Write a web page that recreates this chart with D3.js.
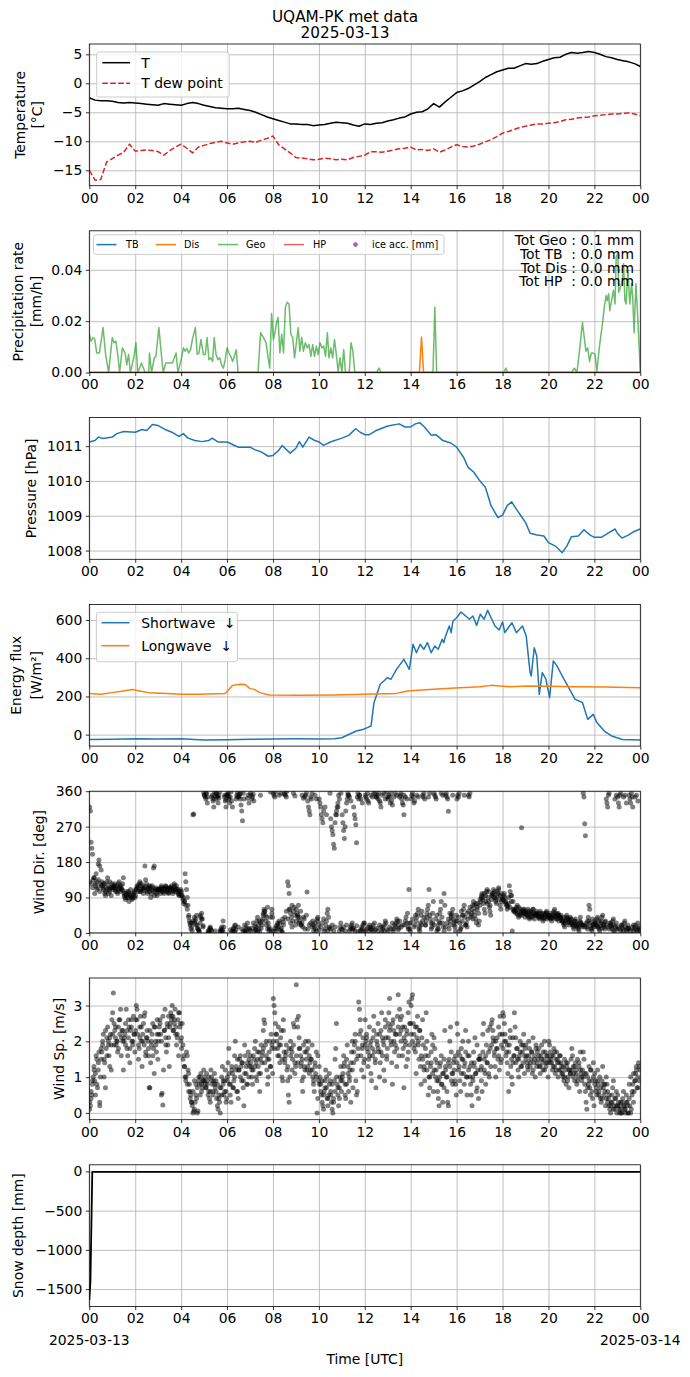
<!DOCTYPE html>
<html><head><meta charset="utf-8">
<script src="https://cdn.jsdelivr.net/npm/d3@7"></script>
<style>
body{margin:0;background:#fff}
svg text{font-family:"DejaVu Sans",sans-serif;fill:#000}
</style>
</head><body><svg id="c" width="690" height="1377"></svg>
<script>
// ---------------- DATA ----------------
const dayStart = Date.UTC(2025,2,13,0,0,0);
const tempHours = d3.range(0, 24.001, 0.25);
const tempT = [-2.5,-2.9,-3.0,-3.0,-3.1,-3.3,-3.4,-3.3,-3.4,-3.5,-3.6,-3.7,-3.8,-3.5,-3.6,-3.7,
  -3.8,-3.5,-3.3,-3.5,-3.8,-4.0,-4.2,-4.3,-4.4,-4.4,-4.3,-4.5,-4.7,-5.0,-5.4,-5.8,
  -6.1,-6.4,-6.7,-7.0,-7.0,-7.1,-7.1,-7.3,-7.2,-7.1,-6.9,-6.7,-6.8,-6.9,-7.2,-7.4,
  -7.0,-7.1,-6.9,-6.8,-6.5,-6.3,-6.0,-5.8,-5.3,-5.0,-4.9,-4.4,-3.5,-4.1,-3.2,-2.4,
  -1.6,-1.3,-0.9,-0.3,0.3,1.0,1.5,2.0,2.3,2.6,2.6,3.0,3.4,3.3,3.4,3.8,
  4.1,4.4,4.5,5.0,5.3,5.2,5.3,5.5,5.3,5.0,4.6,4.4,4.1,3.9,3.7,3.4,2.9];
const tempDew = [-15.0,-16.7,-16.6,-13.6,-13.0,-12.4,-11.9,-10.5,-11.7,-11.6,-11.5,-11.6,-11.8,-12.4,-11.6,-11.0,
  -10.5,-11.2,-12.0,-11.0,-10.7,-10.4,-10.2,-10.0,-10.3,-10.5,-10.3,-10.1,-10.0,-10.2,-9.8,-9.5,
  -9.1,-10.6,-11.3,-12.0,-12.8,-12.9,-13.0,-13.2,-13.1,-12.9,-13.0,-13.2,-13.1,-13.2,-12.8,-12.6,
  -12.4,-11.8,-11.8,-11.9,-11.7,-11.5,-11.3,-11.2,-11.0,-11.5,-11.4,-11.6,-11.3,-11.9,-11.5,-11.0,
  -10.6,-10.9,-11.0,-10.8,-10.5,-10.1,-9.7,-9.2,-8.6,-8.3,-8.0,-7.6,-7.4,-7.2,-7.0,-7.0,
  -6.9,-6.8,-6.6,-6.3,-6.2,-6.0,-5.9,-5.8,-5.6,-5.5,-5.4,-5.3,-5.3,-5.2,-5.1,-5.3,-5.6];

const geoHours = [0,0.08,0.16,0.24,0.32,0.44,0.60,0.71,0.84,1.00,1.08,1.16,1.24,1.32,1.44,1.56,1.63,1.71,1.79,1.95,
  2.03,2.11,2.19,2.27,2.43,2.59,2.62,2.71,2.83,2.90,3.03,3.14,3.22,3.33,3.46,3.62,3.78,3.86,4.02,4.10,
  4.17,4.25,4.33,4.41,4.49,4.62,4.70,4.78,4.86,4.97,5.05,5.13,5.21,5.29,5.37,5.44,5.52,5.60,5.68,5.76,
  5.84,5.92,6.00,6.08,6.16,6.24,6.32,6.40,6.48,7.35,7.46,7.59,7.70,7.79,7.86,7.94,8.02,8.10,8.14,8.22,
  8.30,8.38,8.46,8.54,8.62,8.70,8.78,8.86,8.94,9.02,9.10,9.17,9.25,9.33,9.41,9.49,9.57,9.65,9.73,9.81,
  9.89,9.97,10.05,10.13,10.21,10.29,10.37,10.44,10.52,10.60,10.68,10.76,10.84,10.92,11.00,11.08,11.16,11.32,11.40,11.48,
  11.56,11.63,12.51,12.62,12.71,14.97,15.05,15.13,18.06,18.14,18.22,21.00,21.13,21.24,21.35,21.48,21.56,21.63,21.71,21.79,
  21.87,21.95,22.03,22.11,22.19,22.27,22.35,22.43,22.51,22.56,22.62,22.67,22.75,22.83,22.90,22.95,23.02,23.06,23.14,23.22,
  23.27,23.33,23.38,23.46,23.54,23.62,23.67,23.73,23.81,23.89,24.00];
const geoRate = [0.0149,0.0122,0.0136,0.0129,0.0076,0.0076,0.0175,0.0070,0,0.0136,0.0116,0.0122,0.0070,0,0.0096,0.0076,0.0030,0.0070,0,0.0063,
  0.0116,0,0.0017,0.0037,0,0,0.0076,0,0.0057,0.0063,0.0175,0.0070,0,0.0037,0.0037,0.0037,0.0076,0,0.0057,0.0096,
  0.0083,0.0093,0.0076,0.0089,0.0129,0.0175,0.0070,0.0076,0.0129,0.0070,0.0070,0.0136,0.0050,0.0057,0.0043,0.0136,0.0070,0.0050,0.0057,0.0030,
  0.0017,0.0050,0.0096,0.0076,0.0063,0.0043,0.0063,0.0089,0,0,0.0155,0.0136,0.0116,0.0057,0.0017,0.0230,0.0129,0.0162,0.0188,0.0214,
  0.0076,0.0149,0.0076,0.0254,0.0274,0.0267,0.0149,0.0136,0.0057,0.0116,0.0175,0.0083,0.0136,0.0083,0.0116,0.0096,0.0109,0.0063,0.0109,0.0063,
  0.0103,0.0070,0.0116,0.0096,0.0103,0.0063,0.0155,0.0057,0.0096,0.0057,0.0129,0.0070,0.0004,0.0057,0,0.0089,0,0,0.0116,0.0083,
  0.0004,0,0,0.0017,0,0,0.0254,0,0,0.0017,0,0,0.0017,0,0.0083,0.0195,0.0136,0.0083,0.0096,0.0043,
  0.0076,0.0076,0.0070,0.0004,0.0076,0.0136,0.0188,0.0254,0.0300,0.0280,0.0307,0.0241,0.0280,0.0320,0.0267,0.0451,0.0464,0.0313,0.0333,0.0359,
  0.0425,0.0280,0.0267,0.0399,0.0267,0.0346,0.0293,0.0155,0.0346,0.0214,0.0004];
const disHours = [0,14.38,14.47,14.56,24];
const disRate = [0,0,0.0138,0,0];
const tbHours = [0,24], tbRate = [0,0];
const hpHours = [0,24], hpRate = [0,0];
const precipTotals = ["Tot Geo : 0.1 mm","Tot TB  : 0.0 mm","Tot Dis : 0.0 mm","Tot HP  : 0.0 mm"];

const presHours = [0,0.25,0.4,0.6,1.0,1.2,1.5,2.0,2.3,2.5,2.75,3.0,3.3,3.6,3.9,4.1,4.3,4.6,4.9,5.2,5.35,5.6,
  6.0,6.5,7.0,7.2,7.5,7.8,8.0,8.25,8.4,8.75,9.0,9.15,9.3,9.57,9.8,10.0,10.2,10.5,11.0,11.3,11.6,11.8,12.0,12.2,
  12.5,13.0,13.5,13.75,14.0,14.2,14.4,14.6,14.9,15.1,15.4,15.75,16.0,16.3,16.5,16.75,17.0,17.25,17.5,17.8,18.0,
  18.2,18.4,18.6,18.8,19.0,19.2,19.5,19.8,20.0,20.3,20.6,20.8,21.0,21.3,21.55,21.8,22.0,22.3,22.6,22.9,23.0,
  23.2,23.5,23.7,24.0];
const presVal = [1011.12,1011.16,1011.26,1011.22,1011.26,1011.36,1011.42,1011.40,1011.48,1011.45,1011.62,1011.59,1011.48,1011.40,1011.28,1011.36,
  1011.23,1011.16,1011.13,1011.16,1011.23,1011.12,1011.12,1010.97,1010.97,1010.90,1010.83,1010.71,1010.73,1010.88,1011.02,1010.80,
  1010.94,1011.13,1010.97,1011.26,1011.17,1011.12,1011.02,1011.12,1011.23,1011.31,1011.50,1011.40,1011.33,1011.33,1011.45,1011.58,
  1011.64,1011.55,1011.55,1011.64,1011.67,1011.55,1011.31,1011.33,1011.16,1011.09,1010.97,1010.68,1010.39,1010.25,1010.01,1009.82,
  1009.29,1008.95,1009.02,1009.29,1009.40,1009.19,1009.00,1008.81,1008.50,1008.45,1008.42,1008.23,1008.13,1007.94,1008.13,1008.40,
  1008.42,1008.60,1008.45,1008.38,1008.38,1008.50,1008.62,1008.50,1008.36,1008.45,1008.54,1008.62];

const swHours = [0,1,2,3,4,5,6,7,8,9,10,10.68,11.0,11.32,11.63,11.95,12.11,12.27,12.4,12.5,12.67,12.83,12.98,13.14,13.38,13.7,13.94,
  14.1,14.25,14.41,14.57,14.73,14.89,15.05,15.2,15.37,15.44,15.52,15.68,15.76,15.84,16.0,16.19,16.4,16.56,16.71,16.87,17.03,17.2,17.35,
  17.5,17.67,17.85,18.0,18.1,18.25,18.41,18.6,18.87,19.03,19.2,19.25,19.38,19.49,19.6,19.73,19.89,20.05,20.21,20.37,20.6,20.84,21.16,
  21.48,21.71,21.95,22.11,22.43,22.75,23.22,24];
const swVal = [-25,-24,-22,-23,-22,-28,-27,-24,-23,-22,-23,-21,-16,2,19,28,37,45,168,202,264,281,298,290,342,394,342,
  473,429,473,447,482,429,464,447,499,482,517,569,534,595,612,642,621,604,621,572,630,604,651,
  612,569,548,590,534,560,586,534,569,517,325,307,455,412,211,325,290,194,386,360,307,255,185,
  168,80,106,63,19,-7,-25,-28];
const lwHours = [0,0.52,1.0,1.48,1.87,2.19,2.59,3.38,4.02,4.81,5.92,6.08,6.24,6.56,6.79,7.0,7.19,7.43,7.83,9.1,10.68,11.95,
  13.38,13.86,14.81,15.92,17.03,17.5,18.3,19.1,20.05,21.16,22.43,24];
const lwVal = [215,211,220,229,236,229,220,216,211,211,215,237,258,264,262,241,237,220,208,206,208,211,
  216,229,237,244,251,258,251,255,253,251,250,246];

// wind direction (deg) : values read per half-hour block
const windDir = [
 [320,310,230,215,200,135,140,100,125,150,130,115,175,185,170,125],
 [160,130,120,110,125,100,95,115,130,140,120,110,105,115,95,125],
 [110,120,115,125,105,115,120,100,110,130,115,105,120,110,125,140],
 [100,90,85,95,105,90,100,80,95,110,90,85,100,95,105,90],
 [95,110,120,115,105,125,130,105,110,120,115,100,115,170,135,125],
 [110,100,115,120,105,90,110,120,115,165,170,105,110,100,95,110],
 [105,110,115,100,120,110,105,115,100,110,120,115,105,110,100,115],
 [110,115,120,105,100,110,125,115,110,120,105,110,100,95,105,110],
 [105,95,85,75,80,150,130,110,90,70,40,30,20,10,25,5],
 [300,302,40,30,35,45,20,10,5,3,25,40,50,35,15,356],
 [350,345,340,355,330,5,2,10,15,8,345,350,335,320,358,5],
 [340,355,345,330,350,358,5,10,2,8,30,15,345,335,320,350],
 [350,355,340,330,345,358,335,320,5,10,3,20,8,350,345,15],
 [345,352,340,325,310,285,355,340,5,3,15,10,25,350,12,8],
 [355,350,340,345,352,335,5,8,15,30,40,20,10,3,25,12],
 [20,35,50,60,55,45,30,40,65,25,15,10,358,5,50,40],
 [355,350,345,358,5,10,20,15,30,25,8,12,3,35,20,352],
 [355,350,345,360,130,120,100,60,50,40,70,30,55,65,45,20],
 [60,50,45,70,40,30,55,20,25,15,40,35,345,350,355,104],
 [335,320,310,300,345,340,355,30,20,15,25,10,5,35,40,20],
 [340,330,320,300,290,280,310,5,10,20,30,50,60,40,15,355],
 [290,270,260,250,225,215,280,300,310,320,330,350,5,15,25,10],
 [300,280,260,240,270,310,330,340,355,350,5,10,15,20,25,8],
 [320,300,290,275,229,345,355,340,350,5,8,15,10,20,3,25],
 [350,345,340,355,335,330,5,10,15,8,12,20,3,25,355,345],
 [345,350,340,355,335,330,320,3,10,15,5,20,30,25,358,345],
 [340,350,345,330,355,335,325,5,10,20,15,25,35,30,8,12],
 [345,350,355,340,330,325,300,20,30,40,25,50,15,110,10,5],
 [340,350,355,345,330,335,20,30,40,50,60,10,15,25,45,55],
 [350,345,355,340,20,30,40,60,70,110,45,35,25,15,50,80],
 [355,350,345,340,5,10,20,30,50,60,80,40,25,15,100,70],
 [350,355,345,340,309,10,20,30,40,50,60,35,25,15,5,45],
 [340,350,345,355,5,10,15,30,45,60,70,40,20,25,50,35],
 [350,345,355,40,50,60,70,80,55,45,35,25,65,75,20,30],
 [70,80,90,100,85,75,60,50,95,105,110,90,80,65,55,45],
 [85,95,100,110,105,90,80,75,95,100,115,85,70,60,100,90],
 [85,95,100,90,80,70,60,65,75,120,105,95,80,5,60,55],
 [60,55,50,65,70,45,40,55,60,50,267,45,50,55,60,40],
 [55,50,45,60,40,35,50,55,45,40,60,50,35,45,50,55],
 [45,50,40,35,55,40,45,50,30,35,40,45,50,55,35,40],
 [40,45,50,35,30,40,45,55,60,50,40,35,45,50,30,40],
 [40,45,35,30,25,20,15,30,40,45,35,25,20,30,40,35],
 [25,20,15,10,30,35,25,20,15,10,5,30,40,25,20,15],
 [355,345,277,247,20,15,30,40,70,60,25,10,5,35,20,15],
 [30,25,20,35,40,15,10,5,25,30,40,45,20,15,10,30],
 [340,330,320,350,355,25,20,15,10,30,35,20,5,15,25,10],
 [345,330,320,350,355,20,15,10,5,25,30,15,8,3,20,12],
 [350,340,330,355,345,320,5,10,15,20,8,3,25,12,15,5]
];
// further wind direction readings in the densest clusters (8 per half-hour)
const windDirDense = [
 [130,125,115,140,120,110,135,105],[120,115,125,105,110,100,130,115],[115,120,110,105,125,118,112,108],
 [95,100,90,105,98,92,88,102],[110,115,120,105,125,112,108,118],[105,112,118,100,108,95,115,110],
 [110,108,115,104,112,118,106,102],[115,112,108,120,104,110,96,100],[95,90,80,70,60,45,25,15],
 [30,25,20,12,8,45,35,18],[350,355,345,2,12,6,340,348],[355,348,342,5,15,3,350,338],
 [352,345,8,3,12,18,340,356],[348,355,10,5,20,2,342,330],[5,12,25,18,8,3,30,350],
 [30,45,55,20,10,5,40,60],[5,12,18,25,350,355,3,28],[40,55,35,60,25,15,355,348],
 [30,40,25,20,350,342,10,45],[10,20,25,15,5,350,340,30],[8,15,25,35,320,300,5,12],
 [10,20,5,15,300,320,340,355],[8,15,5,20,350,345,335,12],[12,5,18,3,350,340,330,25],
 [5,10,15,20,350,345,355,8],[12,5,20,15,350,355,340,8],[5,15,10,25,345,355,350,20],
 [30,15,20,350,345,340,10,25],[25,35,15,45,350,345,5,20],[30,40,20,50,345,355,10,25],
 [20,35,45,10,25,355,350,5],[15,25,35,50,45,350,20,30],[30,40,25,55,45,350,20,15],
 [55,65,45,35,70,75,60,50],[85,95,90,100,80,75,105,70],[95,100,90,85,105,110,95,80],
 [85,80,75,70,90,65,95,80],[55,60,50,65,45,55,60,50],[50,45,55,40,50,60,45,48],
 [45,40,50,42,38,48,52,44],[45,40,38,50,42,35,48,44],[35,30,40,25,32,38,28,35],
 [25,20,30,18,22,15,28,20],[20,15,25,10,30,18,12,22],[25,20,15,30,18,12,22,28],
 [20,15,10,25,18,5,340,350],[15,10,5,20,345,350,330,12],[10,5,15,20,345,350,335,8]
];
// wind speed (m/s) : values read per half-hour block
const windSpd = [
 [0.1,0.2,0.4,0.5,0.8,1.0,1.3,0.9,1.1,1.6,1.5,0.7,1.2,1.7,0.3,1.0],
 [1.5,1.7,1.9,2.2,1.0,1.4,0.7,1.8,2.1,2.4,2.0,1.6,1.3,2.2,1.9,2.6],
 [2.8,3.35,2.5,2.3,2.1,1.9,2.0,1.7,2.4,2.6,2.2,2.9,1.6,2.3,2.0,1.2],
 [2.0,2.2,2.5,2.9,1.8,1.6,2.1,2.4,1.4,2.3,2.6,2.0,1.9,2.7,2.2,1.7],
 [2.6,3.0,2.9,2.2,1.5,1.8,2.4,2.7,2.0,1.3,2.2,2.5,1.9,2.8,1.6,2.1],
 [2.3,2.0,1.6,0.7,0.7,1.4,1.9,2.2,2.5,1.8,1.1,2.4,2.0,1.7,2.6,1.5],
 [2.0,2.4,2.6,2.2,0.5,0.55,0.22,1.2,2.3,2.9,2.1,1.7,2.5,1.9,2.7,1.3],
 [2.4,2.8,2.6,3.0,2.7,2.3,2.5,2.9,2.2,1.9,2.1,2.6,1.6,2.8,2.4,2.0],
 [2.1,2.5,1.9,1.6,1.3,1.0,0.9,1.7,1.6,1.2,1.1,0.8,0.6,0.5,0.3,0.2],
 [0.0,0.05,0.1,0.3,0.5,0.4,0.0,0.05,0.9,0.8,1.0,1.1,0.6,0.7,0.9,1.2],
 [1.0,0.8,0.7,1.1,0.9,0.5,0.6,0.4,0.3,1.2,1.0,0.8,0.6,0.9,1.1,0.7],
 [0.9,0.4,0.2,0.1,0.5,0.3,0.0,0.7,1.0,1.3,0.8,0.5,0.9,1.2,0.6,0.4],
 [1.0,1.4,1.8,0.8,0.5,0.3,1.3,1.1,0.7,0.9,1.6,2.0,1.2,0.6,1.5,0.4],
 [1.2,1.5,1.6,1.3,0.9,1.4,0.7,0.2,1.9,1.6,1.1,0.8,1.4,1.7,1.0,1.3],
 [1.6,1.3,1.0,0.8,1.2,1.5,1.8,2.0,1.4,0.9,1.7,1.3,1.1,0.6,1.5,1.9],
 [1.4,1.7,2.3,2.6,2.5,1.9,1.6,1.2,0.8,1.0,1.5,2.0,1.3,2.2,1.8,1.1],
 [3.2,3.0,2.8,2.5,2.2,2.0,1.8,2.4,1.6,1.4,1.9,2.3,1.0,0.9,2.6,1.7],
 [1.4,1.6,1.9,1.2,0.9,0.5,0.3,1.0,2.0,1.8,1.7,1.5,2.5,2.4,1.1,1.3],
 [3.58,2.6,2.4,2.7,2.1,1.8,1.6,1.4,0.9,0.6,1.0,1.3,1.7,2.0,1.5,1.2],
 [1.8,2.0,1.6,1.4,1.2,1.5,1.9,1.0,0.8,0.6,1.3,1.1,1.7,0.0,0.4,0.9],
 [1.3,1.0,0.8,0.5,0.3,0.2,0.1,0.6,0.9,1.2,0.7,0.4,0.2,0.5,1.1,0.9],
 [0.6,0.3,0.1,0.0,0.4,0.9,1.5,1.8,2.5,0.8,0.5,0.2,0.7,1.0,1.3,0.6],
 [0.9,1.1,1.6,1.4,0.5,0.4,0.8,1.9,1.3,0.6,1.0,1.2,0.3,1.7,2.0,0.7],
 [1.4,1.9,2.2,0.9,0.5,0.6,1.6,3.1,2.9,2.6,2.3,1.2,1.8,2.1,1.0,1.5],
 [2.6,2.0,2.2,1.8,1.3,1.5,2.4,1.9,1.1,0.9,1.6,2.1,2.7,1.7,1.4,0.7],
 [2.2,1.9,2.5,1.7,1.0,1.4,2.3,2.8,1.6,2.0,1.2,0.9,2.6,2.1,1.5,1.8],
 [2.5,2.8,3.2,2.4,2.0,1.4,0.8,2.6,2.3,1.7,1.9,2.2,1.3,2.7,3.3,1.6],
 [2.9,2.6,2.3,2.7,1.6,1.8,0.7,2.4,2.0,1.3,2.2,1.5,2.8,3.1,1.9,2.5],
 [3.0,3.2,3.3,2.5,2.2,1.9,1.7,1.1,2.4,2.7,2.0,1.5,2.3,1.3,0.8,2.1],
 [2.6,1.9,1.2,0.9,1.6,2.8,2.0,1.4,0.5,1.0,0.7,1.3,1.7,2.2,1.1,0.6],
 [2.1,1.8,1.5,1.2,0.9,0.6,0.4,0.2,1.0,1.4,1.6,0.8,0.3,1.1,0.7,2.3],
 [1.3,1.0,0.6,0.3,0.2,1.5,2.0,2.4,1.7,1.1,0.8,1.4,1.2,0.9,1.6,0.5],
 [2.5,2.2,1.7,1.3,0.9,0.6,1.8,1.5,2.0,1.1,0.8,1.4,2.3,1.0,0.5,1.6],
 [2.0,1.6,1.3,0.8,0.5,0.2,1.0,1.7,1.4,2.1,1.1,0.6,1.9,1.2,0.4,1.5],
 [1.6,1.2,0.9,0.6,2.2,2.5,1.5,1.1,0.8,1.9,1.4,2.3,1.7,1.0,2.4,1.3],
 [2.5,2.6,2.3,2.0,1.6,1.3,1.0,1.8,2.1,1.5,2.4,1.2,2.7,1.4,1.9,2.2],
 [2.8,2.7,2.5,2.2,2.0,1.7,1.4,1.1,0.6,1.9,2.3,1.3,1.0,0.8,2.1,1.6],
 [2.8,2.4,2.1,1.8,1.5,1.2,1.0,1.6,2.0,1.3,1.9,1.7,1.4,2.2,1.1,1.8],
 [1.9,1.6,1.4,1.2,2.0,1.8,1.3,1.5,1.7,1.1,2.1,1.4,1.6,1.0,1.9,1.3],
 [1.7,1.5,1.8,1.3,1.1,1.6,1.9,1.4,1.2,1.5,2.0,1.7,1.3,1.6,1.4,1.0],
 [2.0,1.9,1.7,1.5,1.4,1.2,1.6,1.8,1.3,1.1,1.5,1.7,1.4,1.0,1.2,1.6],
 [1.6,1.4,1.3,1.1,1.0,0.9,1.5,1.2,0.8,1.3,1.4,1.0,0.7,1.2,1.1,1.5],
 [1.8,1.6,1.3,1.1,0.9,1.4,1.2,0.8,1.5,1.0,1.3,0.6,1.7,1.1,0.9,1.2],
 [1.7,1.5,1.1,0.6,0.3,0.1,1.0,0.8,1.3,0.7,0.5,1.2,0.9,0.4,1.4,0.2],
 [1.1,0.9,0.7,0.5,1.2,0.8,0.6,1.0,0.4,0.3,0.9,1.3,0.7,0.5,0.8,0.2],
 [1.0,0.8,0.6,0.4,0.2,0.1,0.0,0.3,0.5,0.7,0.9,0.2,0.1,0.4,0.6,0.0],
 [0.5,0.3,0.2,0.0,0.1,0.0,0.3,0.4,0.6,0.2,0.1,0.0,0.5,0.3,0.2,0.0],
 [0.4,0.2,0.0,0.1,0.5,0.8,0.3,0.6,0.9,1.1,1.3,0.7,1.0,1.4,0.9,1.2]
];
// further wind speed readings in the densest clusters (8 per half-hour)
const windSpdDense = [
 [0.3,0.6,0.9,1.2,0.5,0.8,1.4,0.2],[1.8,2.0,1.5,2.3,1.6,1.9,2.1,1.2],[2.2,1.9,2.4,2.0,1.8,2.6,2.1,2.3],
 [2.1,1.9,2.3,2.6,1.8,2.4,2.0,2.2],[2.3,2.6,1.9,2.1,2.4,2.0,2.7,1.7],[2.1,1.8,2.3,2.0,1.6,2.4,1.9,2.2],
 [2.2,2.5,2.0,2.7,2.3,1.9,2.4,2.1],[2.5,2.7,2.3,2.6,2.4,2.2,2.8,2.5],[1.8,1.5,1.3,1.0,0.8,0.6,0.4,0.3],
 [0.6,0.9,0.8,0.7,1.0,0.5,0.8,0.9],[0.9,0.7,0.8,1.0,0.6,0.9,0.5,0.8],[0.6,0.8,0.4,0.7,0.5,0.9,0.6,0.3],
 [0.9,1.1,0.8,1.2,0.7,1.0,1.3,0.6],[1.2,1.0,1.4,0.9,1.1,1.3,0.8,1.5],[1.4,1.2,1.6,1.3,1.0,1.5,1.7,1.1],
 [1.6,1.8,1.4,2.0,1.5,1.7,1.3,1.9],[2.0,1.8,2.2,1.6,1.9,2.1,1.5,2.3],[1.5,1.7,1.3,1.8,1.6,1.2,1.9,1.4],
 [1.6,1.4,1.8,1.3,1.5,1.9,1.2,1.7],[1.3,1.1,1.5,1.2,0.9,1.4,1.0,1.6],[0.8,0.6,0.9,0.5,0.7,1.0,0.4,0.8],
 [0.5,0.8,0.3,0.6,1.0,0.7,0.4,0.9],[1.0,1.3,0.8,1.5,1.1,0.9,1.4,1.2],[1.7,2.0,1.5,1.8,2.2,1.6,1.9,1.4],
 [1.9,2.1,1.7,1.6,2.0,1.8,2.3,1.5],[2.0,1.8,2.2,1.7,2.1,1.9,2.4,1.6],[2.1,2.3,1.9,2.5,2.0,2.2,1.8,2.4],
 [2.2,2.0,2.4,2.1,1.9,2.3,1.7,2.5],[2.2,2.0,1.8,2.4,2.1,1.9,2.3,1.6],[1.5,1.3,1.8,1.2,1.6,1.0,1.4,1.9],
 [1.2,1.0,1.4,0.9,1.3,0.8,1.1,1.5],[1.2,1.0,1.4,1.3,0.9,1.1,1.5,0.8],[1.4,1.2,1.6,1.1,1.5,1.3,1.7,1.0],
 [1.2,1.0,1.4,0.9,1.3,1.1,0.7,1.5],[1.5,1.3,1.7,1.2,1.6,1.4,1.1,1.8],[1.9,2.1,1.7,2.0,1.8,1.6,2.2,1.5],
 [1.8,2.0,1.6,1.9,1.7,2.1,1.5,1.4],[1.6,1.4,1.8,1.5,1.7,1.3,1.9,1.6],[1.5,1.3,1.6,1.4,1.7,1.2,1.5,1.8],
 [1.4,1.6,1.3,1.5,1.7,1.2,1.4,1.6],[1.5,1.4,1.6,1.3,1.7,1.2,1.5,1.4],[1.2,1.1,1.3,1.0,1.4,0.9,1.2,1.1],
 [1.2,1.0,1.3,1.1,0.9,1.4,1.2,1.0],[1.0,0.8,1.1,0.7,0.9,1.2,0.6,1.0],[0.8,0.6,0.9,0.5,0.7,0.4,0.8,0.6],
 [0.4,0.3,0.5,0.2,0.3,0.1,0.4,0.2],[0.2,0.1,0.3,0.0,0.2,0.1,0.3,0.0],[0.8,1.0,0.6,1.1,0.9,1.2,0.7,1.3]
];
const snowHours = [0,0.05,0.13,24];
const snowVal = [-1640,-1400,-5,-5];

const titleLines = ["UQAM-PK met data","2025-03-13"];

// ---------------- LAYOUT ----------------
const svg = d3.select("#c");
const L = 89.3, R = 640.3, TOP0 = 44, PITCH = 186.8, PH = 141.7;
const FS = 13.9;
const t = h => new Date(dayStart + h*3600e3);
const x = d3.scaleUtc().domain([t(0), t(24)]).range([L, R]);
const xTicks = d3.utcHour.every(2);

svg.append("rect").attr("width",690).attr("height",1377).attr("fill","#fff");

titleLines.forEach((s,i)=>svg.append("text").attr("x",345).attr("y",21.7+i*16.6)
  .attr("text-anchor","middle").attr("font-size",15.3).text(s));

function panel(i, domain, ticks, fmt, labels){
  const top = TOP0 + i*PITCH, bot = top + PH;
  const y = d3.scaleLinear().domain(domain).range([bot, top]);
  const g = svg.append("g");
  const cid = "clip"+i;
  svg.append("clipPath").attr("id",cid).append("rect")
    .attr("x",L).attr("y",top).attr("width",R-L).attr("height",PH);
  g.append("g").attr("transform",`translate(0,${bot})`)
    .call(d3.axisBottom(x).ticks(xTicks).tickSize(-PH).tickFormat(""))
    .call(s=>{s.select(".domain").remove(); s.selectAll("line").attr("stroke","#b0b0b0").attr("stroke-width",0.8);});
  g.append("g").attr("transform",`translate(${L},0)`)
    .call(d3.axisLeft(y).tickValues(ticks).tickSize(-(R-L)).tickFormat(""))
    .call(s=>{s.select(".domain").remove(); s.selectAll("line").attr("stroke","#b0b0b0").attr("stroke-width",0.8);});
  const data = g.append("g").attr("clip-path",`url(#${cid})`);
  const over = g.append("g");
  const finish = ()=>{
    over.append("rect").attr("x",L).attr("y",top).attr("width",R-L).attr("height",PH)
      .attr("fill","none").attr("stroke","#000").attr("stroke-width",0.8);
    over.append("g").attr("transform",`translate(0,${bot})`)
      .call(d3.axisBottom(x).ticks(xTicks).tickFormat(d3.utcFormat("%H")).tickSize(3.5).tickPadding(3.5))
      .call(s=>{s.select(".domain").remove(); s.selectAll("line").attr("stroke","#000").attr("stroke-width",0.8);
        s.selectAll("text").attr("font-size",FS).attr("font-family","DejaVu Sans").attr("fill","#000");});
    over.append("g").attr("transform",`translate(${L},0)`)
      .call(d3.axisLeft(y).tickValues(ticks).tickFormat(fmt).tickSize(3.5).tickPadding(3.5))
      .call(s=>{s.select(".domain").remove(); s.selectAll("line").attr("stroke","#000").attr("stroke-width",0.8);
        s.selectAll("text").attr("font-size",FS).attr("font-family","DejaVu Sans").attr("fill","#000");});
    const cy = (top+bot)/2;
    labels.forEach(([lx, txt])=>{
      over.append("text").attr("transform",`translate(${lx},${cy}) rotate(-90)`)
        .attr("text-anchor","middle").attr("dominant-baseline","central").attr("font-size",FS).text(txt);
    });
  };
  return {y, data, over, finish, top, bot};
}

function drawLine(p, hrs, vals, color, width, extra){
  const pts = hrs.map((h,k)=>[t(h), vals[k]]);
  const path = p.data.append("path").datum(pts)
    .attr("d", d3.line().x(d=>x(d[0])).y(d=>p.y(d[1])))
    .attr("fill","none").attr("stroke",color).attr("stroke-width",width)
    .attr("stroke-linejoin","round").attr("stroke-linecap","butt");
  if(extra) extra(path);
  return path;
}
function legendBox(p, x0, y0, w, h){
  p.over.append("rect").attr("x",x0).attr("y",y0).attr("width",w).attr("height",h).attr("rx",2.5)
    .attr("fill","#fff").attr("fill-opacity",0.8).attr("stroke","#cccccc").attr("stroke-width",1);
}

// Panel 1 temperature
{
  const p = panel(0, [-17.66, 6.78], [-15,-10,-5,0,5], d3.format("d"), [[20,"Temperature"],[36.7,"[°C]"]]);
  drawLine(p, tempHours, tempT, "#000", 1.5);
  drawLine(p, tempHours, tempDew, "#d62728", 1.5, s=>s.attr("stroke-dasharray","5.55,2.4"));
  p.finish();
  legendBox(p, 96.7, 52, 132.5, 45);
  p.over.append("line").attr("x1",102.3).attr("x2",130.1).attr("y1",62.7).attr("y2",62.7).attr("stroke","#000").attr("stroke-width",1.5);
  p.over.append("line").attr("x1",102.3).attr("x2",130.1).attr("y1",83.3).attr("y2",83.3).attr("stroke","#d62728").attr("stroke-width",1.5).attr("stroke-dasharray","5.55,2.4");
  p.over.append("text").attr("x",141.3).attr("y",62.7).attr("dominant-baseline","central").attr("font-size",FS).text("T");
  p.over.append("text").attr("x",141.3).attr("y",83.3).attr("dominant-baseline","central").attr("font-size",FS).text("T dew point");
}
// Panel 2 precipitation
{
  const p = panel(1, [0, 0.0552], [0,0.02,0.04], d3.format(".2f"), [[18.3,"Precipitation rate"],[36,"[mm/h]"]]);
  drawLine(p, tbHours, tbRate, "#1f77b4", 1.5);
  drawLine(p, disHours, disRate, "#ff7f0e", 1.5);
  drawLine(p, geoHours, geoRate, "#2ca02c", 1.5, s=>s.attr("stroke-opacity",0.7));
  drawLine(p, hpHours, hpRate, "#d62728", 1.5, s=>s.attr("stroke-opacity",0.7));
  p.finish();
  legendBox(p, 93.5, 234.8, 350.5, 19.6);
  const items = [["TB","#1f77b4",1,96.5,126],["Dis","#ff7f0e",1,156,184],["Geo","#2ca02c",0.7,218,246],["HP","#d62728",0.7,284,313]];
  const ly = 244.6;
  items.forEach(([lab,col,op,lx,tx])=>{
    p.over.append("line").attr("x1",lx).attr("x2",lx+20).attr("y1",ly).attr("y2",ly).attr("stroke",col).attr("stroke-opacity",op).attr("stroke-width",1.5);
    p.over.append("text").attr("x",tx).attr("y",ly).attr("dominant-baseline","central").attr("font-size",9.7).text(lab);
  });
  p.over.append("circle").attr("cx",355.5).attr("cy",ly).attr("r",2.3).attr("fill","#9467bd");
  p.over.append("text").attr("x",372).attr("y",ly).attr("dominant-baseline","central").attr("font-size",9.7).text("ice acc. [mm]");
  precipTotals.forEach((s,k)=>p.over.append("text").attr("x",634).attr("y",240+k*13.8)
    .attr("text-anchor","end").attr("dominant-baseline","central").attr("font-size",13.9)
    .style("white-space","pre").text(s));
}
// Panel 3 pressure
{
  const p = panel(2, [1007.75, 1011.82], [1008,1009,1010,1011], d3.format("d"), [[30.7,"Pressure [hPa]"]]);
  drawLine(p, presHours, presVal, "#1f77b4", 1.5);
  p.finish();
}
// Panel 4 energy
{
  const p = panel(3, [-60, 682], [0,200,400,600], d3.format("d"), [[15.7,"Energy flux"],[36,"[W/m²]"]]);
  drawLine(p, swHours, swVal, "#1f77b4", 1.5);
  drawLine(p, lwHours, lwVal, "#ff7f0e", 1.5);
  p.finish();
  legendBox(p, 96.4, 612.3, 141, 49.4);
  [["Shortwave  ↓","#1f77b4",622.7],["Longwave  ↓","#ff7f0e",645.7]].forEach(([lab,col,ly])=>{
    p.over.append("line").attr("x1",101.5).attr("x2",129.5).attr("y1",ly).attr("y2",ly).attr("stroke",col).attr("stroke-width",1.5);
    p.over.append("text").attr("x",141.3).attr("y",ly).attr("dominant-baseline","central").attr("font-size",FS).style("white-space","pre").text(lab);
  });
}
function scatter(p, blockSets){
  const pts = [];
  blockSets.forEach(([blocks, off])=>blocks.forEach((blk,i)=>blk.forEach((v,j)=>
    pts.push([t(i*0.5 + (j+off)*0.5/blk.length), v]))));
  p.data.selectAll("circle.pt").data(pts).join("circle").attr("class","pt")
    .attr("cx",d=>x(d[0])).attr("cy",d=>p.y(d[1])).attr("r",2.5)
    .attr("fill","#000").attr("fill-opacity",0.5);
}
// Panel 5 wind direction
{
  const p = panel(4, [0, 360], [0,90,180,270,360], d3.format("d"), [[39.3,"Wind Dir. [deg]"]]);
  scatter(p, [[windDir,0.5],[windDirDense,0.3]]);
  p.finish();
}
// Panel 6 wind speed
{
  const p = panel(5, [-0.19, 3.77], [0,1,2,3], d3.format("d"), [[59.3,"Wind Sp. [m/s]"]]);
  scatter(p, [[windSpd,0.5],[windSpdDense,0.3]]);
  p.finish();
}
// Panel 7 snow depth
{
  const p = panel(6, [-1722, 84], [-1500,-1000,-500,0], d3.format("d"), [[17.8,"Snow depth [mm]"]]);
  drawLine(p, snowHours, snowVal, "#000", 1.8);
  p.finish();
  p.over.append("text").attr("x",L).attr("y",p.bot+38).attr("text-anchor","middle").attr("font-size",FS).text("2025-03-13");
  p.over.append("text").attr("x",R).attr("y",p.bot+38).attr("text-anchor","middle").attr("font-size",FS).text("2025-03-14");
  p.over.append("text").attr("x",(L+R)/2).attr("y",p.bot+57).attr("text-anchor","middle").attr("font-size",FS).text("Time [UTC]");
}
</script></body></html>
